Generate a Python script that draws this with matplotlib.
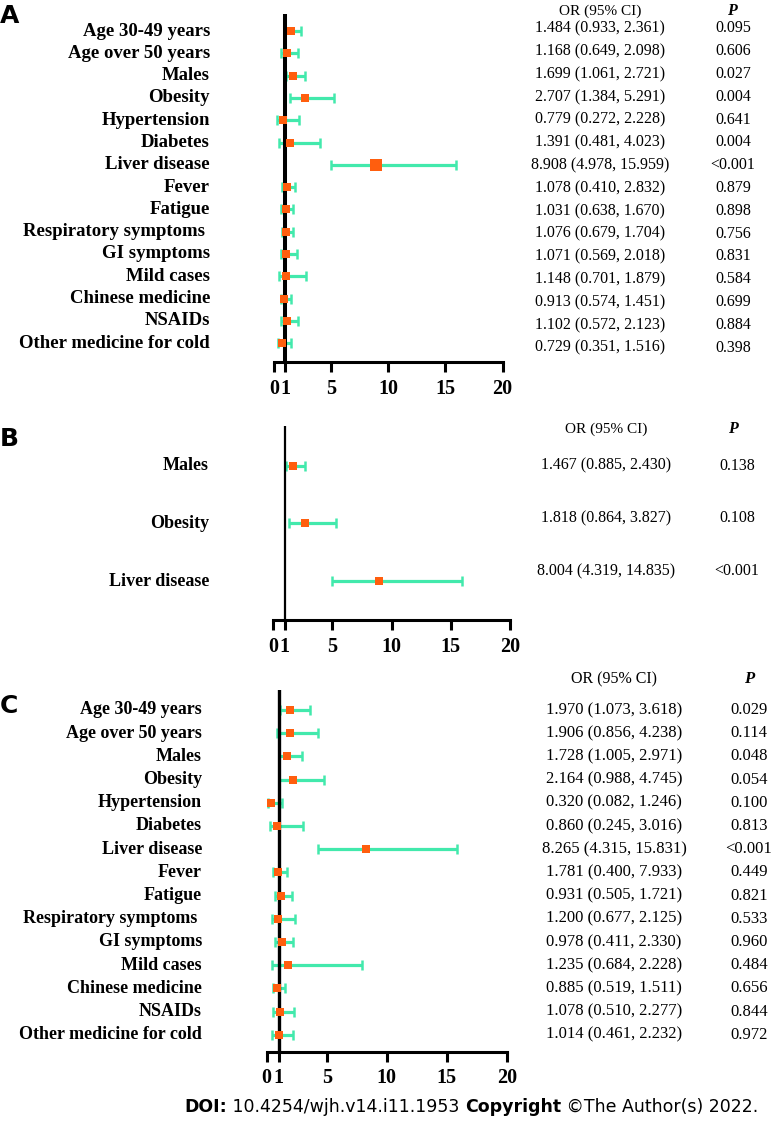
import matplotlib
matplotlib.use('Agg')
import matplotlib.pyplot as plt
from matplotlib.transforms import blended_transform_factory

plt.rcParams['font.family'] = ['Liberation Serif', 'DejaVu Serif']

W, H = 771, 1124
ORANGE = '#FF5E0E'
GREEN = '#42E9AC'

# ---------- data ----------
labels_a = ['Age 30-49 years', 'Age over 50 years', 'Males', 'Obesity', 'Hypertension',
            'Diabetes', 'Liver disease', 'Fever', 'Fatigue', 'Respiratory symptoms ',
            'GI symptoms', 'Mild cases', 'Chinese medicine', 'NSAIDs', 'Other medicine for cold']
# values as drawn in the plot
or_a = [1.484, 1.168, 1.699, 2.707, 0.779, 1.391, 8.908, 1.148, 1.031, 1.076, 1.071, 1.078, 0.913, 1.102, 0.729]
lo_a = [0.933, 0.649, 1.061, 1.384, 0.272, 0.481, 4.978, 0.701, 0.638, 0.679, 0.569, 0.410, 0.574, 0.572, 0.351]
hi_a = [2.361, 2.098, 2.721, 5.291, 2.228, 4.023, 15.959, 1.879, 1.670, 1.704, 2.018, 2.832, 1.451, 2.123, 1.516]
ci_a = ['1.484 (0.933, 2.361)', '1.168 (0.649, 2.098)', '1.699 (1.061, 2.721)', '2.707 (1.384, 5.291)',
        '0.779 (0.272, 2.228)', '1.391 (0.481, 4.023)', '8.908 (4.978, 15.959)', '1.078 (0.410, 2.832)',
        '1.031 (0.638, 1.670)', '1.076 (0.679, 1.704)', '1.071 (0.569, 2.018)', '1.148 (0.701, 1.879)',
        '0.913 (0.574, 1.451)', '1.102 (0.572, 2.123)', '0.729 (0.351, 1.516)']
p_a = ['0.095', '0.606', '0.027', '0.004', '0.641', '0.004', '<0.001', '0.879', '0.898', '0.756',
       '0.831', '0.584', '0.699', '0.884', '0.398']

labels_b = ['Males', 'Obesity', 'Liver disease']
or_b = [1.70, 2.71, 8.91]
lo_b = [1.06, 1.38, 4.98]
hi_b = [2.72, 5.29, 15.96]
ci_b = ['1.467 (0.885, 2.430)', '1.818 (0.864, 3.827)', '8.004 (4.319, 14.835)']
p_b = ['0.138', '0.108', '<0.001']

labels_c = labels_a
or_c = [1.970, 1.906, 1.728, 2.164, 0.320, 0.860, 8.265, 0.93, 1.20, 0.98, 1.24, 1.78, 0.885, 1.078, 1.014]
lo_c = [1.073, 0.856, 1.005, 0.988, 0.082, 0.245, 4.315, 0.51, 0.68, 0.41, 0.68, 0.40, 0.519, 0.510, 0.461]
hi_c = [3.618, 4.238, 2.971, 4.745, 1.246, 3.016, 15.831, 1.72, 2.13, 2.33, 2.23, 7.93, 1.511, 2.277, 2.232]
ci_c = ['1.970 (1.073, 3.618)', '1.906 (0.856, 4.238)', '1.728 (1.005, 2.971)', '2.164 (0.988, 4.745)',
        '0.320 (0.082, 1.246)', '0.860 (0.245, 3.016)', '8.265 (4.315, 15.831)', '1.781 (0.400, 7.933)',
        '0.931 (0.505, 1.721)', '1.200 (0.677, 2.125)', '0.978 (0.411, 2.330)', '1.235 (0.684, 2.228)',
        '0.885 (0.519, 1.511)', '1.078 (0.510, 2.277)', '1.014 (0.461, 2.232)']
p_c = ['0.029', '0.114', '0.048', '0.054', '0.100', '0.813', '<0.001', '0.449', '0.821', '0.533',
       '0.960', '0.484', '0.656', '0.844', '0.972']

xticks = [0, 1, 5, 10, 15, 20]

fig = plt.figure(figsize=(W / 100, H / 100), dpi=100)


def fx(x):
    return x / W


def fy(y):
    return 1 - y / H


def forest(left, right, top, bottom, row0, step, labels, ors, los, his,
           lab_x, lab_size, ms, vlw, slw, big=None):
    ax = fig.add_axes([fx(left), fy(bottom), (right - left) / W, (bottom - top) / H])
    n = len(labels)
    ys = list(range(n))
    ax.set_xlim(0, 20)
    ax.set_ylim((bottom - row0) / step, (top - row0) / step)
    xerr = [[o - l for o, l in zip(ors, los)], [h - o for o, h in zip(ors, his)]]
    ax.errorbar(ors, ys, xerr=xerr, fmt='none', ecolor=GREEN, elinewidth=2.3,
                capsize=3.3, capthick=1.8, zorder=2)
    ax.axvline(1, color='black', lw=vlw, zorder=3)
    for i in ys:
        size = ms * 1.4 if big == i else ms
        ax.plot(ors[i], i, 's', color=ORANGE, markersize=size, markeredgewidth=0, zorder=4)
    for s in ['left', 'top', 'right']:
        ax.spines[s].set_visible(False)
    ax.spines['bottom'].set_linewidth(slw)
    ax.set_yticks([])
    ax.set_xticks(xticks)
    ax.set_xticklabels([str(t) for t in xticks], fontsize=14.5, fontweight='bold')
    ax.tick_params(axis='x', direction='out', length=7, width=slw, pad=5)
    tr = blended_transform_factory(fig.transFigure, ax.transData)
    for i, lab in enumerate(labels):
        ax.text(fx(lab_x), i, lab, transform=tr, ha='right', va='center',
                fontsize=lab_size, fontweight='bold')
    ax.patch.set_alpha(0)
    return ax, tr


def table(rows_y, cis, ps, head_y, ci_x, p_x, p_head_x, size):
    fig.text(fx(ci_x), fy(head_y), 'OR (95% CI)', ha='center', va='center', fontsize=size - 0.5)
    fig.text(fx(p_head_x), fy(head_y), 'P', ha='center', va='center', fontsize=size,
             style='italic', fontweight='bold')
    for y, c, p in zip(rows_y, cis, ps):
        fig.text(fx(ci_x), fy(y), c, ha='center', va='center', fontsize=size)
        fig.text(fx(p_x), fy(y), p, ha='center', va='center', fontsize=size)


def panel_letter(x, y, s):
    fig.text(fx(x), fy(y), s, ha='left', va='center', fontsize=18, fontweight='bold',
             family='DejaVu Sans')


# ---------- panel A ----------
forest(274, 502.6, 13.5, 362, 31, 22.3, labels_a, or_a, lo_a, hi_a,
       lab_x=210, lab_size=13.5, ms=6.3, vlw=2.9, slw=2.2, big=6)
table([28.5 + 22.8 * i for i in range(15)], ci_a, p_a, head_y=11,
      ci_x=600, p_x=733, p_head_x=732, size=11.5)
panel_letter(0, 16, 'A')

# ---------- panel B ----------
forest(273, 510, 426, 620, 465.7, 57.7, labels_b, or_b, lo_b, hi_b,
       lab_x=209, lab_size=13, ms=6, vlw=1.6, slw=2.2)
table([465.7, 518, 571], ci_b, p_b, head_y=429,
      ci_x=606, p_x=737, p_head_x=733, size=11.5)
panel_letter(0, 439, 'B')

# ---------- panel C ----------
forest(266.7, 506.7, 690, 1051.7, 710, 23.2, labels_c, or_c, lo_c, hi_c,
       lab_x=202, lab_size=13, ms=5.6, vlw=2.4, slw=2.2)
table([710 + 23.2 * i for i in range(15)], ci_c, p_c, head_y=679,
      ci_x=614, p_x=749, p_head_x=749, size=12)
panel_letter(0, 706, 'C')

# ---------- footer ----------
fig.canvas.draw()
renderer = fig.canvas.get_renderer()
parts = [('DOI:', 'bold'), (' 10.4254/wjh.v14.i11.1953 ', 'normal'),
         ('Copyright', 'bold'), (' \u00a9The Author(s) 2022.', 'normal')]
x = 184
for txt, wt in parts:
    t = fig.text(fx(x), fy(1107), txt, ha='left', va='center', fontsize=12.5,
                 fontweight=wt, family='DejaVu Sans')
    x += t.get_window_extent(renderer).width

fig.savefig('out.png', dpi=100)
